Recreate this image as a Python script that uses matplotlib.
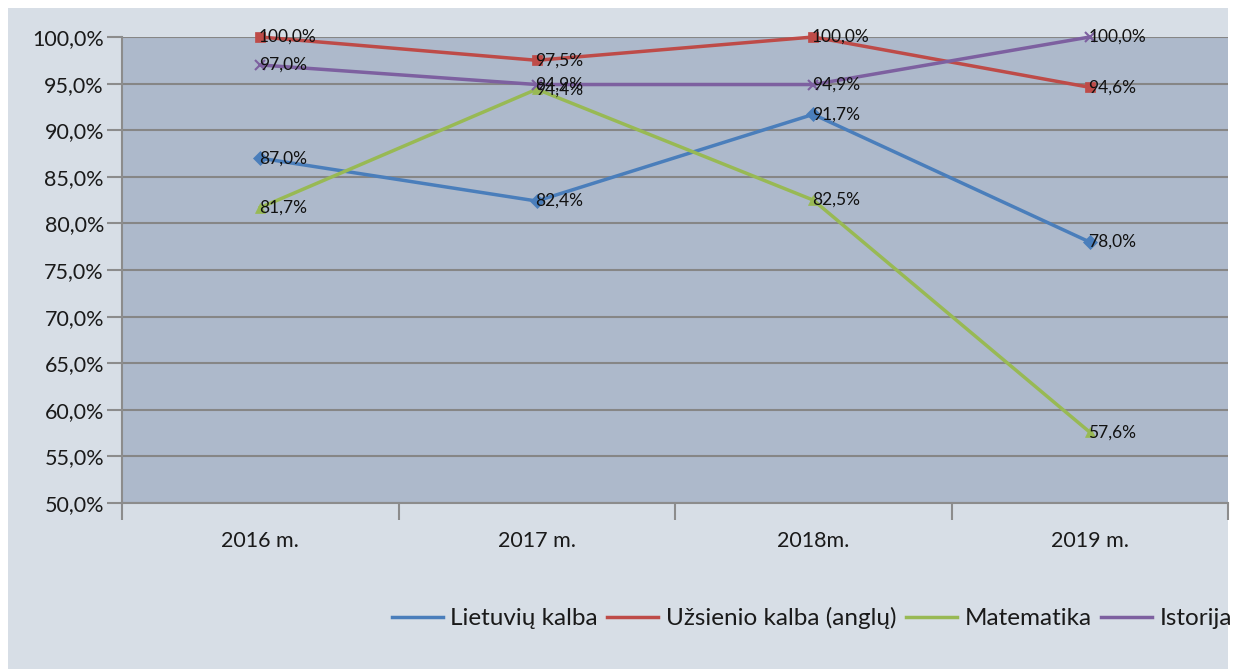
import matplotlib.pyplot as plt
from matplotlib.patches import Rectangle
from matplotlib.ticker import FuncFormatter

# data
years = ["2016 m.", "2017 m.", "2018m.", "2019 m."]
lietuviu = [87.0, 82.4, 91.7, 78.0]
uzsienio = [100.0, 97.5, 100.0, 94.6]
matematika = [81.7, 94.4, 82.5, 57.6]
istorija = [97.0, 94.9, 94.9, 100.0]

series = [
    ("Lietuvių kalba", lietuviu, "#4a7ebb", "D"),
    ("Užsienio kalba (anglų)", uzsienio, "#be4b48", "s"),
    ("Matematika", matematika, "#98b954", "^"),
    ("Istorija", istorija, "#7d60a0", "x"),
]

plt.rcParams["font.family"] = ["Lato", "DejaVu Sans"]

fig = plt.figure(figsize=(12.41, 6.69), dpi=100)
fig.patch.set_facecolor("white")
# light background panel (white strip on top/left like the screenshot)
bg = Rectangle((8 / 1241, 0), 1220 / 1241, 1 - 8 / 669,
               transform=fig.transFigure, facecolor="#d7dee6",
               edgecolor="none", zorder=-10)
fig.add_artist(bg)

ax = fig.add_axes([122 / 1241, 1 - 503 / 669, 1106 / 1241, 466 / 669])
ax.set_facecolor("#adb9cb")

x = range(len(years))
for name, vals, color, mk in series:
    ax.plot(x, vals, color=color, linewidth=2.5, marker=mk, markersize=7,
            markeredgewidth=1.5 if mk == "x" else 0.5, label=name, zorder=3,
            clip_on=False)
    for xi, v in zip(x, vals):
        ax.annotate(f"{v:.1f}%".replace(".", ","), (xi, v), xytext=(-1, 0),
                    textcoords="offset points", ha="left", va="center",
                    fontsize=12.5, color="#111111", zorder=4)

ax.set_xlim(-0.5, 3.5)
ax.set_ylim(50, 100)
ax.set_yticks(range(50, 101, 5))
ax.yaxis.set_major_formatter(FuncFormatter(lambda v, p: f"{v:.1f}%".replace(".", ",")))
ax.set_xticks(list(x))
ax.set_xticklabels(years)
ax.set_xticks([-0.5, 0.5, 1.5, 2.5, 3.5], minor=True)
ax.tick_params(axis="x", which="major", length=0, pad=20, labelsize=15.5,
               labelcolor="#1a1a1a")
ax.tick_params(axis="x", which="minor", length=12, width=1.5, color="#8c8c8c")
ax.tick_params(axis="y", length=11, width=1.5, color="#8c8c8c", labelsize=15.5,
               pad=2, labelcolor="#1a1a1a")
ax.grid(axis="y", color="#868686", linewidth=1.5)
ax.set_axisbelow(True)
for side in ["top", "right"]:
    ax.spines[side].set_visible(False)
for side in ["left", "bottom"]:
    ax.spines[side].set_color("#8c8c8c")
    ax.spines[side].set_linewidth(1.5)

handles = [plt.Line2D([], [], color=c, linewidth=2.5) for _, _, c, _ in series]
fig.legend(handles, [s[0] for s in series], loc="center right", ncol=4,
           bbox_to_anchor=(1232 / 1241, 1 - 618 / 669), frameon=False,
           fontsize=17.5, handlelength=2.1, handletextpad=0.3, columnspacing=0.4,
           borderaxespad=0, borderpad=0, labelcolor="#1a1a1a")

fig.savefig("out.png", dpi=100)
